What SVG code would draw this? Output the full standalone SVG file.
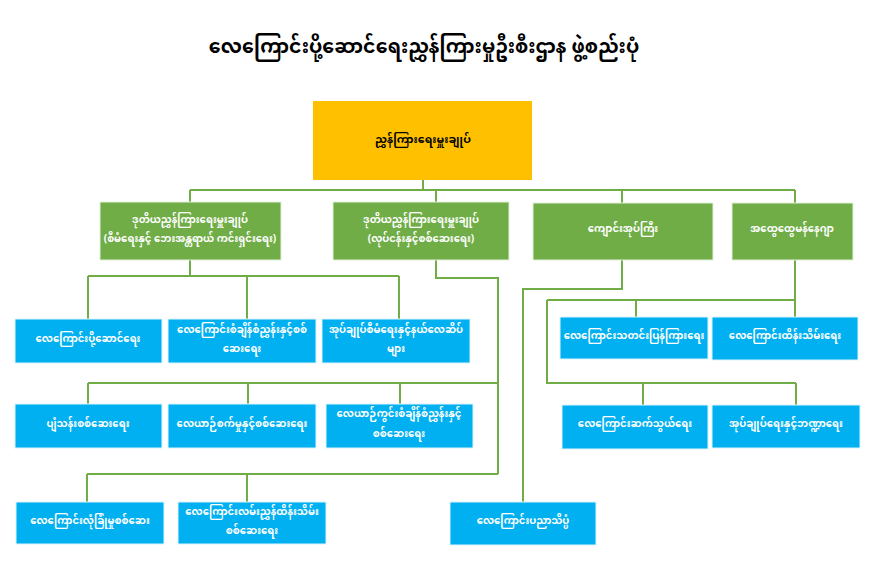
<svg xmlns="http://www.w3.org/2000/svg" width="876" height="573" viewBox="0 0 876 573">
<style>
text{font-family:"Noto Sans Myanmar","Noto Sans","DejaVu Sans",sans-serif;text-anchor:middle;dominant-baseline:central;font-weight:bold}
.g rect{fill:#70AD47;stroke:#E2EFDA;stroke-width:1}
.b rect{fill:#00B0F0;stroke:#DDF4FD;stroke-width:1}
.g text,.b text{fill:#fff;font-size:10px}
#conn path{fill:none;stroke:#70AD47;stroke-width:2}
</style>
<rect width="876" height="573" fill="#fff"/>
<text x="424" y="48" style="font-size:19px;fill:#000">လေကြောင်းပို့ဆောင်ရေးညွှန်ကြားမှုဦးစီးဌာန ဖွဲ့စည်းပုံ</text>
<g id="conn">
<path d="M423 180V190M190 190H795M190 190V202M436 190V202M622 190V203M795 190V203"/>
<path d="M190 260V276M88 276H399M88 276V319M247 276V319M399 276V319"/>
<path d="M436 260V278H498V474M88 383H498M88 383V404M248 383V404M400 383V404M87 474H498M87 474V502M247 474V502"/>
<path d="M622 260V289H523V502"/>
<path d="M795 260V317M547 300H795M636 300V317M547 300V383H796M643 383V405M796 383V405"/>
</g>
<g id="top"><rect x="313" y="101" width="219" height="79" fill="#FFC000"/><text x="423" y="140" style="font-size:11px;fill:#000">ညွှန်ကြားရေးမှူးချုပ်</text></g>
<g id="n1" class="g"><rect x="100" y="202" width="181" height="58"/><text x="190" y="221">ဒုတိယညွှန်ကြားရေးမှူးချုပ်</text><text x="190" y="240">(စီမံရေးနှင့် ဘေးအန္တရာယ် ကင်းရှင်းရေး)</text></g>
<g id="n2" class="g"><rect x="333" y="202" width="176" height="58"/><text x="421" y="221">ဒုတိယညွှန်ကြားရေးမှူးချုပ်</text><text x="421" y="240">(လုပ်ငန်းနှင့်စစ်ဆေးရေး)</text></g>
<g id="n3" class="g"><rect x="533" y="203" width="180" height="57"/><text x="623" y="230">ကျောင်းအုပ်ကြီး</text></g>
<g id="n4" class="g"><rect x="732" y="203" width="121" height="57"/><text x="792" y="230">အထွေထွေမန်နေဂျာ</text></g>
<g id="a1" class="b"><rect x="15" y="319" width="147" height="44"/><text x="88" y="340">လေကြောင်းပို့ဆောင်ရေး</text></g>
<g id="a2" class="b"><rect x="168" y="319" width="148" height="44"/><text x="242" y="331">လေကြောင်းစံချိန်စံညွှန်းနှင့်စစ်</text><text x="242" y="350">ဆေးရေး</text></g>
<g id="a3" class="b"><rect x="322" y="319" width="148" height="44"/><text x="396" y="331">အုပ်ချုပ်စီမံရေးနှင့်နယ်လေဆိပ်</text><text x="396" y="350">များ</text></g>
<g id="b1" class="b"><rect x="15" y="404" width="147" height="44"/><text x="88" y="425">ပျံသန်းစစ်ဆေးရေး</text></g>
<g id="b2" class="b"><rect x="168" y="404" width="148" height="44"/><text x="242" y="425">လေယာဉ်စက်မှုနှင့်စစ်ဆေးရေး</text></g>
<g id="b3" class="b"><rect x="326" y="404" width="147" height="44"/><text x="399" y="415">လေယာဉ်ကွင်းစံချိန်စံညွှန်းနှင့်</text><text x="399" y="435">စစ်ဆေးရေး</text></g>
<g id="c1" class="b"><rect x="16" y="502" width="148" height="42"/><text x="90" y="522">လေကြောင်းလုံခြုံမှုစစ်ဆေး</text></g>
<g id="c2" class="b"><rect x="178" y="502" width="148" height="42"/><text x="252" y="513">လေကြောင်းလမ်းညွှန်ထိန်းသိမ်း</text><text x="252" y="532">စစ်ဆေးရေး</text></g>
<g id="c3" class="b"><rect x="450" y="502" width="146" height="43"/><text x="523" y="522">လေကြောင်းပညာသိပ္ပံ</text></g>
<g id="d1" class="b"><rect x="560" y="317" width="148" height="42"/><text x="634" y="337">လေကြောင်းသတင်းပြန်ကြားရေး</text></g>
<g id="d2" class="b"><rect x="712" y="317" width="146" height="43"/><text x="785" y="337">လေကြောင်းထိန်းသိမ်းရေး</text></g>
<g id="e1" class="b"><rect x="562" y="405" width="146" height="44"/><text x="635" y="425">လေကြောင်းဆက်သွယ်ရေး</text></g>
<g id="e2" class="b"><rect x="712" y="405" width="148" height="43"/><text x="786" y="425">အုပ်ချုပ်ရေးနှင့်ဘဏ္ဍာရေး</text></g>
</svg>
